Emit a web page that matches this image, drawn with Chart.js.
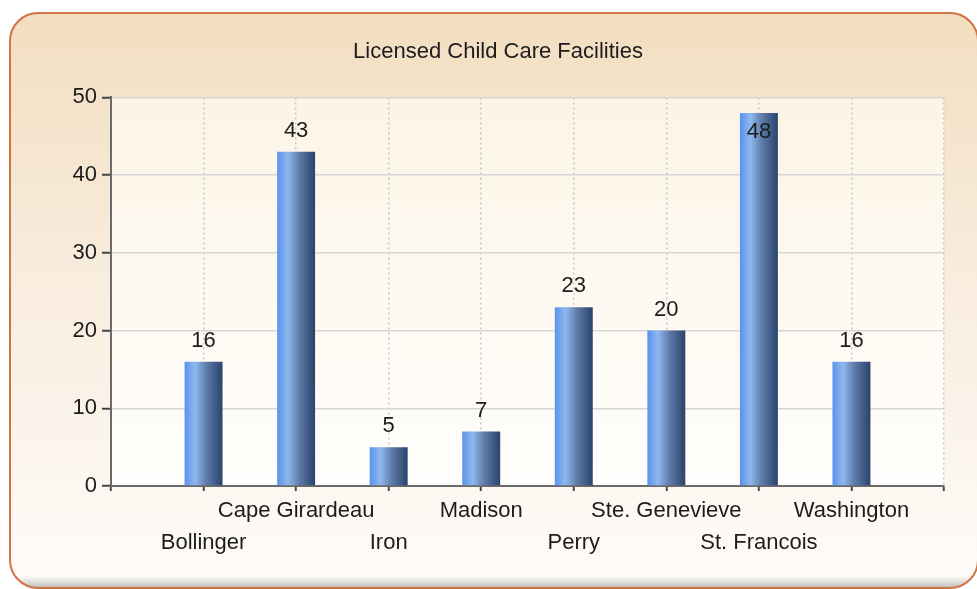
<!DOCTYPE html>
<html>
<head>
<meta charset="utf-8">
<script src="https://cdn.jsdelivr.net/npm/chart.js@4.4.1/dist/chart.umd.min.js"></script>
<style>
  html,body{margin:0;padding:0;background:#fff}
  #c{display:block}
</style>
</head>
<body>
<canvas id="c" width="977" height="589"></canvas>
<script>
// data
const categories = ['Bollinger','Cape Girardeau','Iron','Madison','Perry','Ste. Genevieve','St. Francois','Washington'];
const facilities = [16,43,5,7,23,20,48,16];
const yTicks = [0,10,20,30,40,50];

// one empty slot each side, like the original axis
const labels = [''].concat(categories, ['']);
const values = [null].concat(facilities, [null]);

const FONT = '"Liberation Sans", Arial, sans-serif';
const TEXT = '#1c1c1c';
const BAR_PCT = 0.41;

const framePlugin = {
  id:'frame',
  beforeDraw(chart){
    const {ctx, chartArea:a} = chart;
    ctx.save();
    ctx.fillStyle = '#fff'; ctx.fillRect(0,0,chart.width,chart.height);
    const x=10, y=13, w=968, h=575, r=28;
    const path = new Path2D();
    path.roundRect(x,y,w,h,r);
    const g = ctx.createLinearGradient(0,y,0,y+h);
    g.addColorStop(0,'#f2dec0'); g.addColorStop(0.45,'#f8ecdd'); g.addColorStop(1,'#fefcf9');
    ctx.fillStyle = g; ctx.fill(path);
    // soft shade at bottom edge
    ctx.save(); ctx.clip(path);
    const s = ctx.createLinearGradient(0,y+h-12,0,y+h);
    s.addColorStop(0,'rgba(120,120,120,0)'); s.addColorStop(1,'rgba(110,110,110,0.45)');
    ctx.fillStyle = s; ctx.fillRect(x,y+h-12,w,12);
    ctx.restore();
    ctx.lineWidth = 2; ctx.strokeStyle = '#cf7442'; ctx.stroke(path);
    // plot area
    const p = ctx.createLinearGradient(0,a.top,0,a.bottom);
    p.addColorStop(0,'#fcf4e6'); p.addColorStop(1,'#fffefc');
    ctx.fillStyle = p; ctx.fillRect(a.left,a.top,a.right-a.left,a.bottom-a.top);
    ctx.restore();
  }
};

// horizontal shading of each bar, light left to dark right
function barFill(c){
  const chart = c.chart, xs = chart.scales.x;
  if(!xs || !chart.chartArea || c.dataIndex==null) return '#5b84c4';
  const cx = xs.getPixelForValue(c.dataIndex);
  const half = (xs.width/(labels.length-1))*BAR_PCT/2;
  const g = chart.ctx.createLinearGradient(cx-half,0,cx+half,0);
  g.addColorStop(0,'#5993ed'); g.addColorStop(0.28,'#8fb8ee');
  g.addColorStop(0.6,'#5b78a6'); g.addColorStop(1,'#2a436c');
  return g;
}

const valueLabels = {
  id:'valueLabels',
  afterDatasetsDraw(chart){
    const ctx = chart.ctx, top = chart.chartArea.top;
    ctx.save();
    ctx.font = '22px '+FONT; ctx.fillStyle = TEXT;
    ctx.textAlign = 'center'; ctx.textBaseline = 'alphabetic';
    chart.getDatasetMeta(0).data.forEach((bar,i)=>{
      const v = values[i];
      if(v==null) return;
      let ty = bar.y-15;
      if(ty-17 < top) ty = bar.y+25;
      ctx.fillText(String(v), bar.x, ty);
    });
    ctx.restore();
  }
};

new Chart(document.getElementById('c'), {
  type:'bar',
  data:{labels, datasets:[{label:'Licensed Child Care Facilities', data:values, backgroundColor:barFill, borderWidth:0, categoryPercentage:1, barPercentage:BAR_PCT}]},
  options:{
    responsive:false, animation:false,
    layout:{padding:{left:52,right:33,top:0,bottom:20}},
    plugins:{
      legend:{display:false}, tooltip:{enabled:false},
      title:{display:true, text:'Licensed Child Care Facilities', color:TEXT, font:{family:FONT,size:22,weight:'normal',lineHeight:1.2}, padding:{top:39,bottom:32}}
    },
    scales:{
      x:{
        offset:false,
        grid:{offset:false, color:'#c8c8c8', lineWidth:1.5, tickLength:5, tickColor:'#444', tickWidth:2, tickBorderDash:[]},
        border:{color:'#6a6a6a', width:2, dash:[2,3]},
        ticks:{color:TEXT, autoSkip:false, maxRotation:0, minRotation:0, padding:4, font:{family:FONT,size:22,lineHeight:1.45},
          callback(v,i){ const lab = labels[i]; if(!lab) return ''; return i%2===1 ? ['',lab] : lab; }},
        afterFit(s){ s.height = 83; }
      },
      y:{
        min:0, max:50,
        afterBuildTicks(s){ s.ticks = yTicks.map(v=>({value:v})); },
        grid:{color:'#d6d6d6', lineWidth:1.5, tickLength:9, tickColor:'#444', tickWidth:2},
        border:{color:'#6a6a6a', width:2},
        ticks:{color:TEXT, padding:5, font:{family:FONT,size:22}},
        afterFit(s){ s.width = 59; }
      }
    }
  },
  plugins:[framePlugin, valueLabels]
});
</script>
</body>
</html>
